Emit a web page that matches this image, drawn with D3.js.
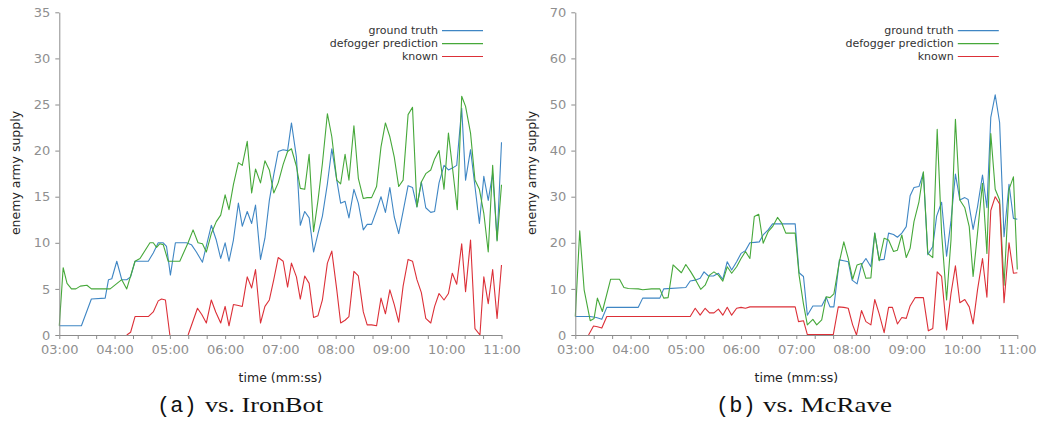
<!DOCTYPE html>
<html>
<head>
<meta charset="utf-8">
<script src="https://cdn.jsdelivr.net/npm/d3@7/dist/d3.min.js"></script>
<style>
  html, body { margin: 0; padding: 0; background: #fff; }
  svg { display: block; }
</style>
</head>
<body>
<svg id="chart" width="1038" height="421"></svg>
<script>
// ---------- DATA (time in game minutes, value = enemy army supply) ----------
const seriesNames = ["ground truth", "defogger prediction", "known"];
const seriesColors = ["#3f86c4", "#46a83a", "#dc3038"];
const xTickLabels = ["03:00", "04:00", "05:00", "06:00", "07:00", "08:00", "09:00", "10:00", "11:00"];
const yTicksIron = [0, 5, 10, 15, 20, 25, 30, 35];
const yTicksMc = [0, 10, 20, 30, 40, 50, 60, 70];
const captions = ["vs. IronBot", "vs. McRave"];
const captionTags = ["(a)", "(b)"];

const ironTruth = [[3.00,1.0],[3.40,1.0],[3.58,3.9],[3.83,4.0],[3.89,6.0],[3.95,6.1],[4.04,8.0],[4.13,6.0],[4.22,6.0],[4.29,6.3],[4.37,8.0],[4.61,8.0],[4.70,8.9],[4.79,10.0],[4.88,10.0],[4.94,9.6],[5.01,6.5],[5.10,10.0],[5.30,10.0],[5.39,9.8],[5.48,9.0],[5.59,7.9],[5.75,11.9],[5.84,10.3],[5.92,8.3],[6.00,10.0],[6.07,8.0],[6.15,10.3],[6.24,14.3],[6.31,11.8],[6.40,13.4],[6.48,12.1],[6.55,14.1],[6.64,8.2],[6.72,10.5],[6.80,14.6],[6.88,17.4],[6.96,19.9],[7.05,20.1],[7.13,20.0],[7.20,23.0],[7.29,19.3],[7.36,11.9],[7.44,13.4],[7.52,12.7],[7.60,9.0],[7.68,11.0],[7.76,12.9],[7.85,16.4],[7.93,20.2],[8.02,16.8],[8.09,14.3],[8.17,14.5],[8.24,12.7],[8.33,15.8],[8.41,14.3],[8.50,11.4],[8.57,12.0],[8.65,12.0],[8.74,13.5],[8.82,15.0],[8.90,13.3],[8.98,16.0],[9.06,12.8],[9.14,11.0],[9.22,13.4],[9.31,16.2],[9.39,16.0],[9.47,13.9],[9.55,16.6],[9.63,13.8],[9.72,13.3],[9.79,13.4],[9.87,16.5],[9.96,18.4],[10.04,17.9],[10.11,18.1],[10.19,18.4],[10.28,24.6],[10.35,16.8],[10.44,20.1],[10.52,16.1],[10.60,12.1],[10.68,17.2],[10.76,14.6],[10.84,17.5],[10.92,10.3],[11.00,20.9]];

const ironPred = [[3.00,1.0],[3.07,7.3],[3.14,5.6],[3.22,5.0],[3.30,5.0],[3.38,5.3],[3.50,5.4],[3.58,5.0],[3.92,5.0],[4.13,6.0],[4.22,5.0],[4.37,8.0],[4.46,8.3],[4.64,10.0],[4.70,10.0],[4.76,9.5],[4.82,9.9],[4.88,9.8],[4.97,8.0],[5.18,8.0],[5.33,10.0],[5.42,11.4],[5.51,10.0],[5.59,9.9],[5.66,9.0],[5.75,11.0],[5.84,12.3],[5.92,13.0],[6.00,15.2],[6.07,13.6],[6.15,16.3],[6.24,18.7],[6.31,18.4],[6.40,21.0],[6.48,15.4],[6.55,18.0],[6.64,16.5],[6.72,18.9],[6.80,17.9],[6.88,15.4],[6.96,16.5],[7.05,18.5],[7.13,19.9],[7.20,20.2],[7.29,18.3],[7.36,15.9],[7.44,15.8],[7.52,19.6],[7.60,11.2],[7.68,14.6],[7.76,18.6],[7.85,24.0],[7.93,21.5],[8.02,16.8],[8.09,16.4],[8.17,19.6],[8.24,16.8],[8.33,22.7],[8.41,17.0],[8.50,14.8],[8.57,14.9],[8.65,14.9],[8.74,16.1],[8.82,20.4],[8.90,23.0],[8.98,21.5],[9.06,19.3],[9.14,16.1],[9.22,16.8],[9.31,23.9],[9.39,24.7],[9.47,13.9],[9.55,16.6],[9.63,17.5],[9.72,17.9],[9.79,19.1],[9.87,20.0],[9.96,15.8],[10.04,21.9],[10.11,18.3],[10.20,13.6],[10.28,25.9],[10.35,24.8],[10.44,21.9],[10.52,16.8],[10.60,15.8],[10.68,13.2],[10.76,9.0],[10.84,18.4],[10.92,10.2],[11.00,16.3]];

const ironKnown = [[4.22,0],[4.29,0.3],[4.37,2.0],[4.61,2.0],[4.70,2.5],[4.79,3.7],[4.85,3.9],[4.92,3.8],[5.00,0],[5.16,null],[5.33,0],[5.50,2.9],[5.58,2.2],[5.66,1.3],[5.75,3.8],[5.83,2.5],[5.92,1.3],[6.00,3.1],[6.07,1.0],[6.15,3.3],[6.24,3.2],[6.31,3.1],[6.40,6.3],[6.48,5.1],[6.55,7.1],[6.64,1.3],[6.72,3.1],[6.80,3.8],[6.88,6.0],[6.96,8.4],[7.05,8.0],[7.13,5.2],[7.20,7.8],[7.29,6.3],[7.36,3.9],[7.44,6.4],[7.52,5.6],[7.60,1.9],[7.68,2.1],[7.76,3.8],[7.85,7.8],[7.93,9.1],[8.02,4.9],[8.09,1.3],[8.17,1.6],[8.24,2.0],[8.33,6.9],[8.41,6.4],[8.50,2.5],[8.57,1.1],[8.65,1.1],[8.74,1.0],[8.82,4.0],[8.90,2.3],[8.98,4.9],[9.06,3.3],[9.14,1.4],[9.22,5.3],[9.31,8.2],[9.39,8.0],[9.47,6.0],[9.55,4.6],[9.63,1.8],[9.72,1.3],[9.79,3.1],[9.87,4.5],[9.96,3.8],[10.04,4.5],[10.11,6.7],[10.19,5.5],[10.28,9.9],[10.35,4.7],[10.44,10.3],[10.52,0.7],[10.61,0],[10.68,6.3],[10.76,3.4],[10.84,7.1],[10.92,1.8],[11.00,7.6]];

const mcTruth = [[3.00,4.0],[3.27,4.0],[3.38,3.8],[3.48,3.4],[3.57,6.0],[4.14,6.0],[4.22,8.0],[4.53,8.0],[4.60,10.0],[5.00,10.3],[5.08,11.7],[5.17,11.9],[5.26,12.3],[5.33,13.7],[5.41,12.8],[5.50,12.8],[5.59,13.4],[5.67,12.1],[5.75,15.9],[5.83,14.1],[5.92,15.9],[6.00,17.7],[6.08,18.3],[6.16,20.0],[6.25,20.1],[6.33,20.2],[6.40,21.7],[6.49,22.8],[6.57,24.1],[6.98,24.1],[7.05,13.5],[7.13,12.7],[7.20,4.3],[7.30,6.3],[7.46,6.3],[7.54,8.2],[7.61,6.1],[7.68,6.1],[7.78,16.3],[7.86,16.1],[7.94,15.9],[8.01,11.9],[8.10,11.1],[8.18,15.2],[8.26,16.6],[8.35,14.8],[8.42,22.1],[8.50,16.3],[8.59,16.4],[8.67,22.1],[8.76,21.8],[8.83,21.2],[8.91,22.1],[8.99,23.5],[9.06,30.2],[9.13,32.0],[9.22,32.2],[9.30,35.2],[9.38,17.4],[9.47,19.2],[9.54,25.8],[9.63,28.8],[9.72,17.1],[9.80,24.8],[9.88,34.9],[9.96,29.3],[10.05,29.8],[10.11,29.4],[10.20,22.9],[10.28,27.8],[10.37,34.7],[10.45,27.6],[10.52,47.2],[10.60,52.1],[10.68,46.1],[10.76,21.3],[10.85,32.7],[10.93,25.3],[11.00,25.1]];

const mcPred = [[3.00,4.0],[3.08,22.6],[3.16,9.8],[3.27,3.1],[3.34,3.6],[3.40,8.0],[3.49,5.1],[3.64,12.1],[3.80,12.1],[3.88,10.3],[3.96,10.1],[4.14,10.0],[4.22,9.8],[4.38,10.0],[4.53,10.0],[4.60,8.0],[4.68,8.1],[4.77,15.2],[4.92,13.5],[5.00,15.3],[5.09,13.7],[5.18,11.9],[5.27,9.9],[5.35,10.8],[5.43,13.0],[5.51,13.7],[5.59,13.0],[5.67,11.7],[5.75,14.8],[5.83,13.4],[5.92,14.8],[6.00,16.6],[6.08,18.1],[6.16,16.6],[6.24,25.7],[6.32,26.2],[6.40,19.9],[6.49,22.4],[6.57,23.5],[6.66,25.5],[6.74,24.2],[6.81,22.1],[6.98,22.1],[7.05,13.0],[7.13,6.7],[7.20,2.2],[7.30,3.4],[7.37,2.2],[7.46,3.3],[7.54,8.3],[7.61,8.1],[7.68,8.9],[7.78,15.9],[7.86,20.2],[7.94,16.6],[8.02,12.1],[8.10,15.2],[8.18,15.5],[8.26,12.3],[8.35,12.4],[8.42,22.1],[8.50,16.1],[8.59,21.0],[8.67,20.6],[8.76,18.1],[8.83,18.4],[8.91,21.7],[8.99,16.8],[9.06,18.8],[9.13,24.6],[9.22,28.9],[9.30,35.4],[9.38,17.7],[9.47,16.8],[9.55,44.6],[9.63,22.1],[9.72,7.6],[9.80,20.6],[9.88,46.8],[9.96,29.3],[10.05,27.6],[10.13,23.5],[10.20,12.7],[10.28,22.1],[10.37,32.9],[10.45,17.7],[10.52,43.7],[10.60,31.6],[10.68,29.3],[10.76,10.8],[10.85,31.6],[10.93,34.3],[11.00,14.2]];

const mcKnown = [[3.24,0],[3.33,1.95],[3.40,1.8],[3.48,1.5],[3.57,4.0],[5.08,4.0],[5.17,5.8],[5.26,4.3],[5.35,5.8],[5.43,4.8],[5.51,4.8],[5.59,5.6],[5.67,4.3],[5.75,6.0],[5.83,4.3],[5.92,5.8],[6.00,6.0],[6.08,5.8],[6.16,6.1],[6.98,6.1],[7.04,2.9],[7.13,3.1],[7.20,0.1],[7.67,0.1],[7.76,6.1],[7.86,6.0],[7.94,5.8],[8.02,2.2],[8.09,0],[8.18,5.3],[8.26,2.9],[8.35,2.2],[8.42,7.7],[8.50,4.6],[8.59,0.5],[8.67,6.0],[8.74,6.0],[8.83,2.4],[8.91,3.8],[8.99,3.6],[9.06,6.3],[9.15,8.1],[9.30,8.1],[9.39,0.9],[9.47,1.4],[9.55,13.7],[9.63,12.7],[9.72,1.1],[9.80,9.0],[9.88,15.0],[9.96,7.0],[10.05,7.7],[10.13,6.1],[10.20,2.4],[10.28,9.8],[10.37,16.6],[10.45,8.2],[10.52,27.0],[10.60,30.0],[10.68,28.4],[10.76,7.0],[10.85,20.0],[10.93,13.4],[11.00,13.5]];

// ---------- DRAWING ----------
const svg = d3.select("#chart");
const FONT = "'DejaVu Sans', Verdana, sans-serif";

function drawPanel(p) {
  const g = svg.append("g");
  const x = d3.scaleLinear().domain([3, 11]).range([p.left, p.right]);
  const y = d3.scaleLinear().domain([0, p.yMax]).range([335, 12.3]);

  const line = d3.line()
    .defined(d => d[1] !== null)
    .x(d => x(d[0])).y(d => y(d[1]));
  p.series.forEach((s, i) => {
    g.append("path").datum(s)
      .attr("fill", "none")
      .attr("stroke", seriesColors[i])
      .attr("stroke-width", 1.1)
      .attr("stroke-linejoin", "round")
      .attr("d", line);
  });

  const xTicks = d3.range(0, 25).map(i => 3 + i / 3);
  const xAxis = d3.axisBottom(x)
    .tickValues(xTicks)
    .tickSize(4).tickSizeOuter(0)
    .tickFormat((d, i) => (i % 3 === 0 ? xTickLabels[i / 3] : ""));
  const gx = g.append("g").attr("transform", "translate(0,335)").call(xAxis);
  gx.attr("font-size", null).attr("font-family", null);
  gx.select(".domain").attr("stroke", "#8c8c8c");
  gx.selectAll(".tick line").attr("stroke", "#8c8c8c");
  gx.selectAll(".tick text").attr("fill", "#8f8f8f")
    .attr("font-family", FONT).attr("font-size", 13).attr("dy", "0.95em");

  const yAxis = d3.axisLeft(y).tickValues(p.yTicks).tickSize(4).tickSizeOuter(0);
  const gy = g.append("g").attr("transform", `translate(${p.left},0)`).call(yAxis);
  gy.attr("font-size", null).attr("font-family", null);
  gy.select(".domain").attr("stroke", "#8c8c8c");
  gy.selectAll(".tick line").attr("stroke", "#8c8c8c");
  gy.selectAll(".tick text").attr("fill", "#8f8f8f")
    .attr("font-family", FONT).attr("font-size", 13).attr("x", -9);

  g.append("text")
    .attr("transform", `translate(${p.left - 43},173) rotate(-90)`)
    .attr("text-anchor", "middle").attr("dominant-baseline", "middle")
    .attr("font-family", FONT).attr("font-size", 12.5).attr("fill", "#222")
    .text("enemy army supply");
  g.append("text")
    .attr("x", (p.left + p.right) / 2).attr("y", 378)
    .attr("text-anchor", "middle").attr("dominant-baseline", "middle")
    .attr("font-family", FONT).attr("font-size", 12.5).attr("fill", "#222")
    .text("time (mm:ss)");

  const legY = [30.7, 43.6, 56.5];
  seriesNames.forEach((n, i) => {
    g.append("text")
      .attr("x", p.right - 63.5).attr("y", legY[i])
      .attr("text-anchor", "end").attr("dominant-baseline", "middle")
      .attr("font-family", FONT).attr("font-size", 11).attr("fill", "#333")
      .text(n);
    g.append("line")
      .attr("x1", p.right - 59.5).attr("x2", p.right - 18.5)
      .attr("y1", legY[i]).attr("y2", legY[i])
      .attr("stroke", seriesColors[i]).attr("stroke-width", 1.2);
  });

  g.append("text")
    .attr("x", p.tagX).attr("y", 412)
    .attr("text-anchor", "start")
    .attr("font-family", "'Liberation Mono', monospace")
    .attr("font-size", 22).attr("fill", "#111")
    .text(p.tag);
  g.append("text")
    .attr("x", p.capStart).attr("y", 412)
    .attr("text-anchor", "start")
    .attr("textLength", p.capLen).attr("lengthAdjust", "spacingAndGlyphs")
    .attr("font-family", "'Liberation Serif', 'Times New Roman', serif")
    .attr("font-size", 22).attr("fill", "#111")
    .text(p.caption);
}

drawPanel({
  left: 59.3, right: 501.5, yMax: 35, yTicks: yTicksIron,
  series: [ironTruth, ironPred, ironKnown],
  tag: captionTags[0], caption: captions[0], tagX: 157, capStart: 205, capLen: 118
});
drawPanel({
  left: 575.3, right: 1017.3, yMax: 70, yTicks: yTicksMc,
  series: [mcTruth, mcPred, mcKnown],
  tag: captionTags[1], caption: captions[1], tagX: 716, capStart: 763, capLen: 129
});
</script>
</body>
</html>
